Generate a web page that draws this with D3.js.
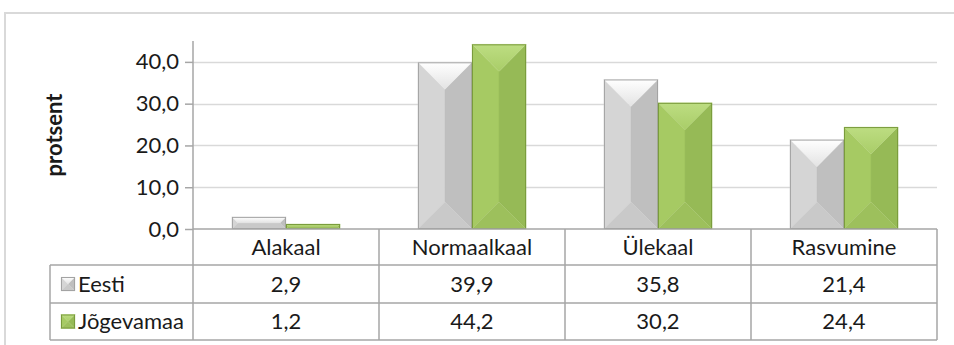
<!DOCTYPE html>
<html>
<head>
<meta charset="utf-8">
<script src="https://cdn.jsdelivr.net/npm/d3@7"></script>
<style>
  html, body { margin: 0; padding: 0; background: #fff; }
  svg { display: block; }
  text { font-family: Lato, "Open Sans", sans-serif; fill: #1a1a1a; }
</style>
</head>
<body>
<svg id="chart" width="954" height="345"></svg>
<script>
const categories = ["Alakaal", "Normaalkaal", "Ülekaal", "Rasvumine"];
const seriesNames = ["Eesti", "Jõgevamaa"];
const eestiValues = [2.9, 39.9, 35.8, 21.4];
const jogevamaaValues = [1.2, 44.2, 30.2, 24.4];
const yTickValues = [0, 10, 20, 30, 40];
const yAxisTitle = "protsent";

const seriesValues = [eestiValues, jogevamaaValues];

const palettes = [
  { top0: "#ffffff", top1: "#e3e3e3", left: "#d5d5d5", right: "#bfbfbf", bottom: "#c9c9c9", stroke: "#a3a3a3" },
  { top0: "#bddd82", top1: "#a9cd68", left: "#a6ca63", right: "#96ba56", bottom: "#9dc05c", stroke: "#7a9b3d" }
];

const W = 954, H = 345;
const plotLeft = 193, plotRight = 937, plotTop = 41, plotBottom = 229;
const tableLeft = 50, rowH = [229, 265, 303, 340];

const svg = d3.select("#chart");
const locale = d3.formatLocale({ decimal: ",", thousands: " ", grouping: [3], currency: ["", "€"] });
const fmt = locale.format(".1f");

// defs: gradients for top faces
const defs = svg.append("defs");
palettes.forEach((p, i) => {
  const g = defs.append("linearGradient").attr("id", "topGrad" + i)
    .attr("x1", 0).attr("y1", 0).attr("x2", 0).attr("y2", 1);
  g.append("stop").attr("offset", "0%").attr("stop-color", p.top0);
  g.append("stop").attr("offset", "100%").attr("stop-color", p.top1);
});

// outer border
svg.append("rect").attr("x", 5).attr("y", 13).attr("width", W + 10).attr("height", H + 10)
  .attr("fill", "none").attr("stroke", "#d9d9d9").attr("stroke-width", 2);

const x0 = d3.scaleBand().domain(categories).range([plotLeft, plotRight]).paddingInner(0).paddingOuter(0);
const x1 = d3.scaleBand().domain(seriesNames).range([0, x0.bandwidth()]).paddingInner(0).paddingOuter(0.72);
const y = d3.scaleLinear().domain([0, 45]).range([plotBottom, plotTop]);

// gridlines
svg.append("g").selectAll("line").data(yTickValues.filter(d => d > 0)).join("line")
  .attr("x1", plotLeft).attr("x2", plotRight)
  .attr("y1", d => Math.round(y(d)) + 0.5).attr("y2", d => Math.round(y(d)) + 0.5)
  .attr("stroke", "#d9d9d9").attr("stroke-width", 1.5);

// y axis
const yAxis = d3.axisLeft(y).tickValues(yTickValues).tickSize(8).tickPadding(6).tickFormat(fmt);
const gy = svg.append("g").attr("transform", `translate(${plotLeft},0)`).call(yAxis);
gy.select(".domain").attr("stroke", "#a6a6a6").attr("stroke-width", 1.5).attr("d", `M-8,${plotTop}H0V${plotBottom}`).attr("d", `M0,${plotTop}V${plotBottom}`);
gy.selectAll(".tick line").attr("stroke", "#a6a6a6").attr("stroke-width", 1.5);
gy.selectAll(".tick text").attr("font-size", 22).attr("font-family", "Lato, sans-serif").attr("fill", "#1a1a1a");

// axis title
svg.append("text").attr("transform", `translate(62,135) rotate(-90)`)
  .attr("text-anchor", "middle").attr("font-size", 22).attr("font-weight", "bold").text(yAxisTitle);

// bevel bar drawer
function bevel(g, bx0, by0, bx1, by1, p, i) {
  const w = bx1 - bx0, h = by1 - by0;
  const d = Math.min(w / 2, h / 2);
  const pts = {
    top: [[bx0, by0], [bx1, by0], [bx1 - d, by0 + d], [bx0 + d, by0 + d]],
    left: [[bx0, by0], [bx0 + d, by0 + d], [bx0 + d, by1 - d], [bx0, by1]],
    right: [[bx1, by0], [bx1, by1], [bx1 - d, by1 - d], [bx1 - d, by0 + d]],
    bottom: [[bx0, by1], [bx0 + d, by1 - d], [bx1 - d, by1 - d], [bx1, by1]],
    center: [[bx0 + d, by0 + d], [bx1 - d, by0 + d], [bx1 - d, by1 - d], [bx0 + d, by1 - d]]
  };
  const fills = { left: p.left, right: p.right, bottom: p.bottom, center: p.left, top: `url(#topGrad${i})` };
  ["center", "left", "right", "bottom", "top"].forEach(k => {
    g.append("polygon").attr("points", pts[k].map(q => q.join(",")).join(" "))
      .attr("fill", fills[k]).attr("stroke", fills[k] .startsWith("url") ? p.top1 : fills[k]).attr("stroke-width", 0.3);
  });
  g.append("rect").attr("x", bx0 + 0.5).attr("y", by0 + 0.5).attr("width", Math.max(0, w - 1)).attr("height", Math.max(0, h - 1))
    .attr("fill", "none").attr("stroke", p.stroke).attr("stroke-width", 1);
}

// bars
const barsG = svg.append("g");
categories.forEach((c, ci) => {
  seriesNames.forEach((s, si) => {
    const v = seriesValues[si][ci];
    const bx0 = x0(c) + x1(s);
    const bx1 = bx0 + x1.bandwidth();
    bevel(barsG.append("g"), bx0, y(v), bx1, y(0), palettes[si], si);
  });
});

// data table
const tbl = svg.append("g");
const lineColor = "#a6a6a6";
// horizontal lines
tbl.append("line").attr("x1", plotLeft).attr("x2", plotRight).attr("y1", rowH[0]).attr("y2", rowH[0]).attr("stroke", lineColor).attr("stroke-width", 1.5);
[rowH[1], rowH[2], rowH[3]].forEach(yy => {
  tbl.append("line").attr("x1", tableLeft).attr("x2", plotRight).attr("y1", yy).attr("y2", yy).attr("stroke", lineColor).attr("stroke-width", 1.5);
});
// vertical lines
tbl.append("line").attr("x1", tableLeft).attr("x2", tableLeft).attr("y1", rowH[1]).attr("y2", rowH[3]).attr("stroke", lineColor).attr("stroke-width", 1.5);
categories.forEach(c => {
  tbl.append("line").attr("x1", x0(c)).attr("x2", x0(c)).attr("y1", rowH[0]).attr("y2", rowH[3]).attr("stroke", lineColor).attr("stroke-width", 1.5);
});
tbl.append("line").attr("x1", plotRight).attr("x2", plotRight).attr("y1", rowH[0]).attr("y2", rowH[3]).attr("stroke", lineColor).attr("stroke-width", 1.5);

// header labels
categories.forEach(c => {
  tbl.append("text").attr("x", x0(c) + x0.bandwidth() / 2).attr("y", (rowH[0] + rowH[1]) / 2)
    .attr("dy", "0.36em").attr("text-anchor", "middle").attr("font-size", 22).text(c);
});
// rows
seriesNames.forEach((s, si) => {
  const cy = (rowH[si + 1] + rowH[si + 2]) / 2;
  bevel(tbl.append("g"), 61, cy - 7, 75, cy + 7, palettes[si], si);
  tbl.append("text").attr("x", 78).attr("y", cy).attr("dy", "0.36em").attr("font-size", 22).text(s);
  categories.forEach((c, ci) => {
    tbl.append("text").attr("x", x0(c) + x0.bandwidth() / 2).attr("y", cy).attr("dy", "0.36em")
      .attr("text-anchor", "middle").attr("font-size", 22).text(fmt(seriesValues[si][ci]));
  });
});
</script>
</body>
</html>
